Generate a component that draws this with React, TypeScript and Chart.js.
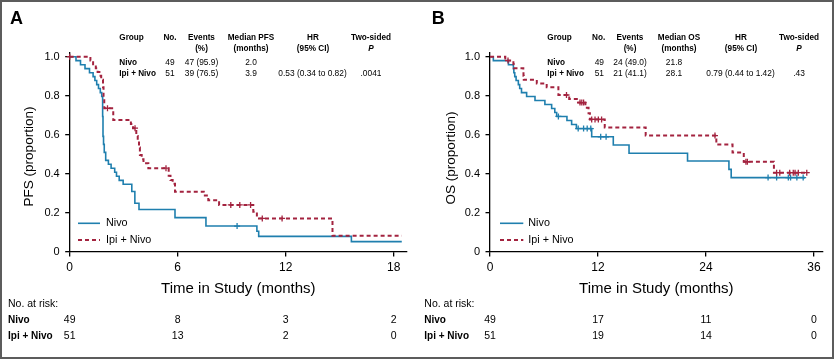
import React, { useEffect, useRef } from 'react';
import { Chart, registerables } from 'chart.js';

Chart.register(...registerables);

const FONT = '"Liberation Sans", Arial, Helvetica, sans-serif';
const BLUE = '#1f7fae';
const RED = '#a3233f';
const H = 359;

// ---------------- Panel A: PFS ----------------
const pfsTicks = [0, 6, 12, 18];
const pfsNivoT = [0, 0.35, 0.6, 0.85, 1.1, 1.3, 1.4, 1.5, 1.6, 1.7, 1.78, 1.83, 1.85, 1.88, 1.92, 2.0, 2.15, 2.3, 2.5, 2.6, 2.75, 2.97, 3.45, 3.62, 3.85, 5.85, 7.57, 10.4, 10.5, 15.65, 18.45];
const pfsNivoS = [1, 0.98, 0.959, 0.939, 0.918, 0.898, 0.878, 0.857, 0.837, 0.816, 0.796, 0.694, 0.592, 0.551, 0.51, 0.469, 0.449, 0.429, 0.408, 0.388, 0.367, 0.347, 0.31, 0.25, 0.218, 0.176, 0.133, 0.106, 0.08, 0.053, 0.053];
const pfsNivoCens = [9.3];
const pfsIpiT = [0, 1.15, 1.3, 1.45, 1.55, 1.65, 1.75, 1.85, 1.88, 1.92, 2.42, 3.4, 3.52, 3.7, 3.78, 3.85, 3.9, 4.0, 4.1, 4.37, 5.5, 5.6, 5.72, 5.85, 7.45, 7.7, 8.3, 10.2, 10.4, 14.6, 18.45];
const pfsIpiS = [1, 0.98, 0.961, 0.941, 0.922, 0.902, 0.882, 0.843, 0.784, 0.736, 0.676, 0.655, 0.634, 0.594, 0.574, 0.535, 0.497, 0.475, 0.454, 0.429, 0.39, 0.369, 0.349, 0.309, 0.289, 0.265, 0.241, 0.206, 0.172, 0.083, 0.083];
const pfsIpiCens = [0, 2.1, 3.63, 5.35, 8.95, 9.45, 10.05, 10.7, 11.8];
const pfsHeaders = [['Group', ''], ['No.', ''], ['Events', '(%)'], ['Median PFS', '(months)'], ['HR', '(95% CI)'], ['Two-sided', 'P']];
const pfsRowNivo = ['Nivo', '49', '47 (95.9)', '2.0', '', ''];
const pfsRowIpi = ['Ipi + Nivo', '51', '39 (76.5)', '3.9', '0.53 (0.34 to 0.82)', '.0041'];
const pfsRiskNivo = [49, 8, 3, 2];
const pfsRiskIpi = [51, 13, 2, 0];

// ---------------- Panel B: OS ----------------
const osTicks = [0, 12, 24, 36];
const osNivoT = [0, 0.37, 2.05, 2.6, 2.65, 2.75, 2.9, 3.15, 3.3, 3.5, 4.07, 5.0, 6.1, 6.85, 7.2, 7.41, 8.55, 9.07, 9.6, 11.3, 13.7, 15.45, 21.95, 26.55, 26.8, 35.0];
const osNivoS = [1, 0.98, 0.959, 0.939, 0.918, 0.898, 0.878, 0.857, 0.837, 0.816, 0.796, 0.776, 0.755, 0.735, 0.714, 0.694, 0.673, 0.653, 0.632, 0.59, 0.548, 0.506, 0.466, 0.423, 0.381, 0.381];
const osNivoCens = [7.6, 9.8, 10.4, 10.8, 11.2, 12.3, 12.9, 30.9, 31.85, 33.15, 33.4, 34.1, 34.8];
const osIpiT = [0, 1.7, 2.6, 2.65, 3.7, 3.72, 3.75, 5.2, 6.3, 7.6, 8.8, 9.8, 10.6, 10.95, 11.1, 12.75, 17.3, 25.15, 26.95, 28.2, 31.55, 35.35];
const osIpiS = [1, 0.98, 0.961, 0.941, 0.922, 0.902, 0.882, 0.863, 0.843, 0.804, 0.784, 0.765, 0.738, 0.71, 0.679, 0.638, 0.596, 0.551, 0.509, 0.462, 0.406, 0.406];
const osIpiCens = [2.0, 8.5, 10.0, 10.2, 10.4, 11.3, 11.67, 12.04, 12.4, 25.0, 28.44, 28.6, 31.85, 32.2, 33.3, 33.7, 33.9, 34.26, 35.2];
const osHeaders = [['Group', ''], ['No.', ''], ['Events', '(%)'], ['Median OS', '(months)'], ['HR', '(95% CI)'], ['Two-sided', 'P']];
const osRowNivo = ['Nivo', '49', '24 (49.0)', '21.8', '', ''];
const osRowIpi = ['Ipi + Nivo', '51', '21 (41.1)', '28.1', '0.79 (0.44 to 1.42)', '.43'];
const osRiskNivo = [49, 17, 11, 0];
const osRiskIpi = [51, 19, 14, 0];

const yTicks = [0, 0.2, 0.4, 0.6, 0.8, 1.0];

type PanelCfg = {
  letter: string;
  left: number;
  width: number;
  xMax: number;
  xTicks: number[];
  yAxisW: number;
  padTop: number;
  padRight: number;
  padBottom: number;
  xAxisH: number;
  yTitle: string;
  yTitleX: number;
  yTitleY: number;
  letterX: number;
  nivoT: number[]; nivoS: number[]; nivoCens: number[];
  ipiT: number[]; ipiS: number[]; ipiCens: number[];
  headers: string[][];
  rows: string[][];
  headerX: number[];
  rowX: number[];
  legendX0: number; legendX1: number; legendTextX: number;
  riskNivo: number[]; riskIpi: number[];
  riskLabelX: number;
};

const panelA: PanelCfg = {
  letter: 'A', left: 0, width: 417, xMax: 18.74, xTicks: pfsTicks,
  yAxisW: 69.7, padTop: 52.8, padRight: 10, padBottom: 57, xAxisH: 50,
  yTitle: 'PFS (proportion)', yTitleX: 29, yTitleY: 156.5, letterX: 10,
  nivoT: pfsNivoT, nivoS: pfsNivoS, nivoCens: pfsNivoCens,
  ipiT: pfsIpiT, ipiS: pfsIpiS, ipiCens: pfsIpiCens,
  headers: pfsHeaders, rows: [pfsRowNivo, pfsRowIpi],
  headerX: [119.3, 170, 201.5, 251, 313, 371],
  rowX: [119.3, 170, 201.5, 251, 312.5, 371],
  legendX0: 78, legendX1: 100, legendTextX: 106,
  riskNivo: pfsRiskNivo, riskIpi: pfsRiskIpi, riskLabelX: 8,
};

const panelB: PanelCfg = {
  letter: 'B', left: 417, width: 418, xMax: 36.97, xTicks: osTicks,
  yAxisW: 73, padTop: 52.8, padRight: 12.3, padBottom: 57, xAxisH: 50,
  yTitle: 'OS (proportion)', yTitleX: 33.8, yTitleY: 158, letterX: 14.7,
  nivoT: osNivoT, nivoS: osNivoS, nivoCens: osNivoCens,
  ipiT: osIpiT, ipiS: osIpiS, ipiCens: osIpiCens,
  headers: osHeaders, rows: [osRowNivo, osRowIpi],
  headerX: [130.3, 181.7, 213, 262, 324, 382],
  rowX: [130.3, 182.3, 213, 257, 323.5, 382],
  legendX0: 83, legendX1: 106.3, legendTextX: 111.3,
  riskNivo: osRiskNivo, riskIpi: osRiskIpi, riskLabelX: 7.3,
};

function zip(ts: number[], ss: number[]) {
  return ts.map((t, i) => ({ x: t, y: ss[i] }));
}

function censorPoints(cens: number[], ts: number[], ss: number[]) {
  return cens.map((c) => {
    let s = ss[0];
    for (let i = 0; i < ts.length; i++) if (ts[i] <= c) s = ss[i];
    return { x: c, y: s };
  });
}

function overlay(p: PanelCfg) {
  return {
    id: 'overlay' + p.letter,
    afterDraw(chart: any) {
      const ctx = chart.ctx as CanvasRenderingContext2D;
      const xs = chart.scales.x;
      ctx.save();
      ctx.fillStyle = '#000';
      ctx.textBaseline = 'middle';

      // panel letter
      ctx.font = `bold 18px ${FONT}`;
      ctx.textAlign = 'left';
      ctx.fillText(p.letter, p.letterX, 19.5);

      // y title
      ctx.save();
      ctx.translate(p.yTitleX, p.yTitleY);
      ctx.rotate(-Math.PI / 2);
      ctx.font = `13.5px ${FONT}`;
      ctx.textAlign = 'center';
      ctx.fillText(p.yTitle, 0, 0);
      ctx.restore();

      // table header
      p.headers.forEach((h, i) => {
        ctx.textAlign = i === 0 ? 'left' : 'center';
        ctx.font = `bold 8.2px ${FONT}`;
        ctx.fillText(h[0], p.headerX[i], 37.7);
        if (h[1]) {
          ctx.font = h[1] === 'P' ? `italic bold 8.2px ${FONT}` : `bold 8.2px ${FONT}`;
          ctx.fillText(h[1], p.headerX[i], 48.3);
        }
      });
      // table rows
      const rowY = [62.7, 74];
      p.rows.forEach((r, ri) => {
        r.forEach((v, i) => {
          if (!v) return;
          ctx.textAlign = i === 0 ? 'left' : 'center';
          ctx.font = i === 0 ? `bold 8.2px ${FONT}` : `8.4px ${FONT}`;
          ctx.fillText(v, p.rowX[i], rowY[ri]);
        });
      });

      // legend
      const legY = [223.3, 240];
      ctx.lineWidth = 1.6;
      ctx.strokeStyle = BLUE;
      ctx.setLineDash([]);
      ctx.beginPath();
      ctx.moveTo(p.legendX0, legY[0]);
      ctx.lineTo(p.legendX1, legY[0]);
      ctx.stroke();
      ctx.strokeStyle = RED;
      ctx.lineWidth = 2;
      ctx.setLineDash([4, 3]);
      ctx.beginPath();
      ctx.moveTo(p.legendX0, legY[1]);
      ctx.lineTo(p.legendX1, legY[1]);
      ctx.stroke();
      ctx.setLineDash([]);
      ctx.font = `10.8px ${FONT}`;
      ctx.textAlign = 'left';
      ctx.fillText('Nivo', p.legendTextX, legY[0]);
      ctx.fillText('Ipi + Nivo', p.legendTextX, legY[1]);

      // at risk
      ctx.font = `10.5px ${FONT}`;
      ctx.fillText('No. at risk:', p.riskLabelX, 304);
      ctx.font = `bold 10px ${FONT}`;
      ctx.fillText('Nivo', p.riskLabelX, 320.5);
      ctx.fillText('Ipi + Nivo', p.riskLabelX, 336);
      ctx.font = `10.5px ${FONT}`;
      ctx.textAlign = 'center';
      p.xTicks.forEach((t, i) => {
        const px = xs.getPixelForValue(t);
        ctx.fillText(String(p.riskNivo[i]), px, 320.5);
        ctx.fillText(String(p.riskIpi[i]), px, 336);
      });
      ctx.restore();
    },
  };
}

function buildConfig(p: PanelCfg): any {
  const nivo = zip(p.nivoT, p.nivoS);
  const ipi = zip(p.ipiT, p.ipiS);
  const cN = censorPoints(p.nivoCens, p.nivoT, p.nivoS);
  const cI = censorPoints(p.ipiCens, p.ipiT, p.ipiS);
  const axisCommon = {
    grid: { display: true, drawOnChartArea: false, drawTicks: true, tickLength: 4.5, color: '#000', lineWidth: 1.3 },
    border: { display: true, color: '#000', width: 1.3 },
  };
  return {
    type: 'line',
    data: {
      datasets: [
        { label: 'cI', data: cI, showLine: false, pointStyle: 'cross', pointRadius: 3, pointBorderColor: RED, pointBorderWidth: 1.3, clip: false },
        { label: 'cN', data: cN, showLine: false, pointStyle: 'cross', pointRadius: 3, pointBorderColor: BLUE, pointBorderWidth: 1.3, clip: false },
        { label: 'Ipi + Nivo', data: ipi, borderColor: RED, borderWidth: 2, borderDash: [4, 3], stepped: true, pointRadius: 0, fill: false },
        { label: 'Nivo', data: nivo, borderColor: BLUE, borderWidth: 1.6, stepped: true, pointRadius: 0, fill: false },
      ],
    },
    options: {
      animation: false,
      responsive: false,
      devicePixelRatio: 1,
      events: [],
      layout: { padding: { left: 0, top: p.padTop, right: p.padRight, bottom: p.padBottom } },
      scales: {
        x: {
          type: 'linear', min: 0, max: p.xMax,
          afterBuildTicks: (a: any) => { a.ticks = p.xTicks.map((v) => ({ value: v })); },
          afterFit: (s: any) => { s.height = p.xAxisH; },
          ticks: { font: { family: FONT, size: 12 }, color: '#000', padding: 4, autoSkip: false, maxRotation: 0 },
          title: { display: true, text: 'Time in Study (months)', font: { family: FONT, size: 15 }, color: '#000', padding: { top: 0, bottom: 4.5 } },
          ...axisCommon,
        },
        y: {
          type: 'linear', min: 0, max: 1.02,
          afterBuildTicks: (a: any) => { a.ticks = yTicks.map((v) => ({ value: v })); },
          afterFit: (s: any) => { s.width = p.yAxisW; },
          ticks: {
            font: { family: FONT, size: 11 }, color: '#000', padding: 5.5, autoSkip: false,
            callback: (v: any) => (Number(v) === 0 ? '0' : Number(v).toFixed(1)),
          },
          title: { display: false },
          ...axisCommon,
        },
      },
      plugins: { legend: { display: false }, tooltip: { enabled: false } },
    },
    plugins: [overlay(p)],
  };
}

function KMPanel({ cfg }: { cfg: PanelCfg }) {
  const ref = useRef<HTMLCanvasElement>(null);
  useEffect(() => {
    const chart = new Chart(ref.current as HTMLCanvasElement, buildConfig(cfg));
    return () => chart.destroy();
  }, [cfg]);
  return (
    <canvas
      ref={ref}
      width={cfg.width}
      height={H}
      style={{ position: 'absolute', left: cfg.left, top: 0, width: cfg.width, height: H }}
    />
  );
}

export default function App() {
  return (
    <div style={{ position: 'fixed', left: 0, top: 0, width: 835, height: H, background: '#fff', overflow: 'hidden' }}>
      <KMPanel cfg={panelA} />
      <KMPanel cfg={panelB} />
      <div
        style={{
          position: 'absolute', left: 0, top: 0, width: 834, height: 359,
          boxSizing: 'border-box', border: '2px solid #5c5c5c', pointerEvents: 'none',
        }}
      />
    </div>
  );
}
